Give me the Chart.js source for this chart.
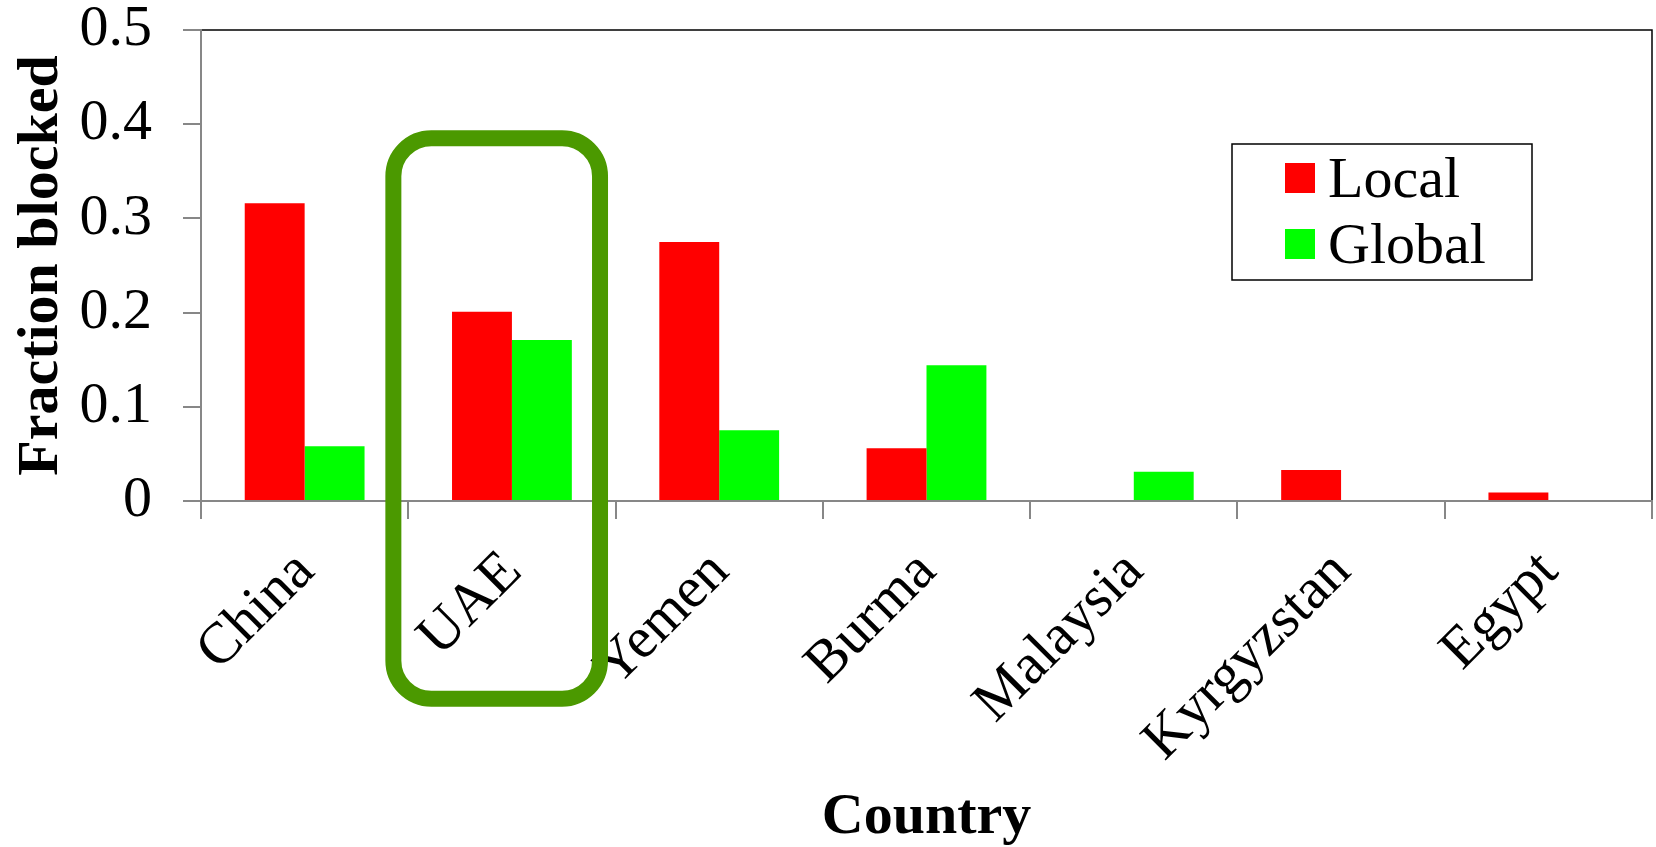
<!DOCTYPE html>
<html>
<head>
<meta charset="utf-8">
<title>Fraction blocked by country</title>
<script src="https://cdn.jsdelivr.net/npm/chart.js@4.4.1/dist/chart.umd.min.js"></script>
<style>
  html, body { margin: 0; padding: 0; background: #ffffff; }
  #wrap { width: 1656px; height: 847px; }
</style>
</head>
<body>
<div id="wrap"><canvas id="chart" width="1656" height="847"></canvas></div>
<script>
// Categories and series
const countries = ['China', 'UAE', 'Yemen', 'Burma', 'Malaysia', 'Kyrgyzstan', 'Egypt'];
const localBlocked  = [0.316, 0.201, 0.275, 0.056, 0, 0.033, 0.009];
const globalBlocked = [0.058, 0.171, 0.075, 0.144, 0.031, 0, 0];
const yTicks = [0, 0.1, 0.2, 0.3, 0.4, 0.5];

const FONT = 'Liberation Serif';
const AXIS_GREY = '#878787';

Chart.defaults.font.family = FONT;
Chart.defaults.color = '#000000';

// Thin black frame on the top and right of the plot area
const frame = {
  id: 'frame',
  beforeDatasetsDraw(chart) {
    const { ctx, chartArea: a } = chart;
    ctx.save();
    ctx.strokeStyle = '#000000';
    ctx.lineWidth = 1.5;
    ctx.beginPath();
    ctx.moveTo(a.left, a.top);
    ctx.lineTo(a.right, a.top);
    ctx.lineTo(a.right, a.bottom);
    ctx.stroke();
    ctx.restore();
  }
};

// Boxed legend inside the plot, built from the datasets
const boxedLegend = {
  id: 'boxedLegend',
  afterDatasetsDraw(chart, args, o) {
    const { ctx } = chart;
    ctx.save();
    ctx.strokeStyle = '#000000';
    ctx.lineWidth = 1.5;
    ctx.strokeRect(o.x, o.y, o.w, o.h);
    ctx.font = o.fontSize + 'px "' + FONT + '"';
    ctx.textBaseline = 'alphabetic';
    ctx.textAlign = 'left';
    chart.data.datasets.forEach((ds, i) => {
      const base = o.firstBaseline + i * o.rowGap;
      ctx.fillStyle = ds.backgroundColor;
      ctx.fillRect(o.swatchX, base - o.swatchLift, o.swatch, o.swatch);
      ctx.fillStyle = '#000000';
      ctx.fillText(ds.label, o.textX, base);
    });
    ctx.restore();
  }
};

// Rounded highlight around one category, positioned through the scales
const highlight = {
  id: 'highlight',
  afterDraw(chart, args, o) {
    const { ctx, scales } = chart;
    const x0 = scales.x.getPixelForValue(o.from);
    const x1 = scales.x.getPixelForValue(o.to);
    const y0 = scales.y.getPixelForValue(o.top);
    const y1 = scales.y.getPixelForValue(o.bottom);
    ctx.save();
    ctx.strokeStyle = o.color;
    ctx.lineWidth = o.width;
    ctx.beginPath();
    ctx.roundRect(x0, y0, x1 - x0, y1 - y0, o.radius);
    ctx.stroke();
    ctx.restore();
  }
};

new Chart(document.getElementById('chart'), {
  type: 'bar',
  data: {
    labels: countries,
    datasets: [
      { label: 'Local',  data: localBlocked,  backgroundColor: '#ff0000', borderWidth: 0 },
      { label: 'Global', data: globalBlocked, backgroundColor: '#00ff00', borderWidth: 0 }
    ]
  },
  options: {
    responsive: false,
    animation: false,
    events: [],
    layout: { padding: { top: 30, right: 4, left: 0, bottom: 0 } },
    datasets: { bar: { barPercentage: 1.0, categoryPercentage: 0.578 } },
    plugins: {
      legend: { display: false },
      tooltip: { enabled: false },
      boxedLegend: {
        x: 1232, y: 144, w: 300, h: 136,
        swatchX: 1285, swatch: 30, swatchLift: 34,
        textX: 1328, firstBaseline: 197, rowGap: 66, fontSize: 58
      },
      highlight: {
        from: 0.428, to: 1.425, top: 0.385, bottom: -0.21,
        radius: 38, width: 16, color: '#4b9900'
      }
    },
    scales: {
      x: {
        offset: true,
        grid: {
          offset: true, drawOnChartArea: false, drawTicks: true,
          tickLength: 18, color: AXIS_GREY, lineWidth: 2
        },
        border: { display: true, color: AXIS_GREY, width: 2, z: 1 },
        ticks: {
          autoSkip: false, minRotation: 45, maxRotation: 45,
          font: { size: 58, lineHeight: 1.2 }, color: '#000000',
          padding: 19, labelOffset: 1
        },
        title: {
          display: true, text: 'Country',
          font: { size: 58, weight: 'bold', lineHeight: 1 },
          color: '#000000', padding: { top: 0, bottom: 0 }
        },
        afterFit(s) { s.height = 346; s.paddingLeft = 0; s.paddingRight = 0; }
      },
      y: {
        min: 0, max: 0.5,
        afterBuildTicks(s) { s.ticks = yTicks.map(v => ({ value: v })); },
        grid: {
          drawOnChartArea: false, drawTicks: true,
          tickLength: 18, color: AXIS_GREY, lineWidth: 2
        },
        border: { display: true, color: AXIS_GREY, width: 2, z: 1 },
        ticks: {
          font: { size: 58 }, color: '#000000', padding: 31,
          callback: v => String(Math.round(v * 10) / 10)
        },
        title: {
          display: true, text: 'Fraction blocked',
          font: { size: 58, weight: 'bold', lineHeight: 1 },
          color: '#000000', padding: { top: 13, bottom: 0 }
        },
        afterFit(s) { s.width = 201; s.paddingTop = 0; s.paddingBottom = 0; }
      }
    }
  },
  plugins: [frame, boxedLegend, highlight]
});
</script>
</body>
</html>
